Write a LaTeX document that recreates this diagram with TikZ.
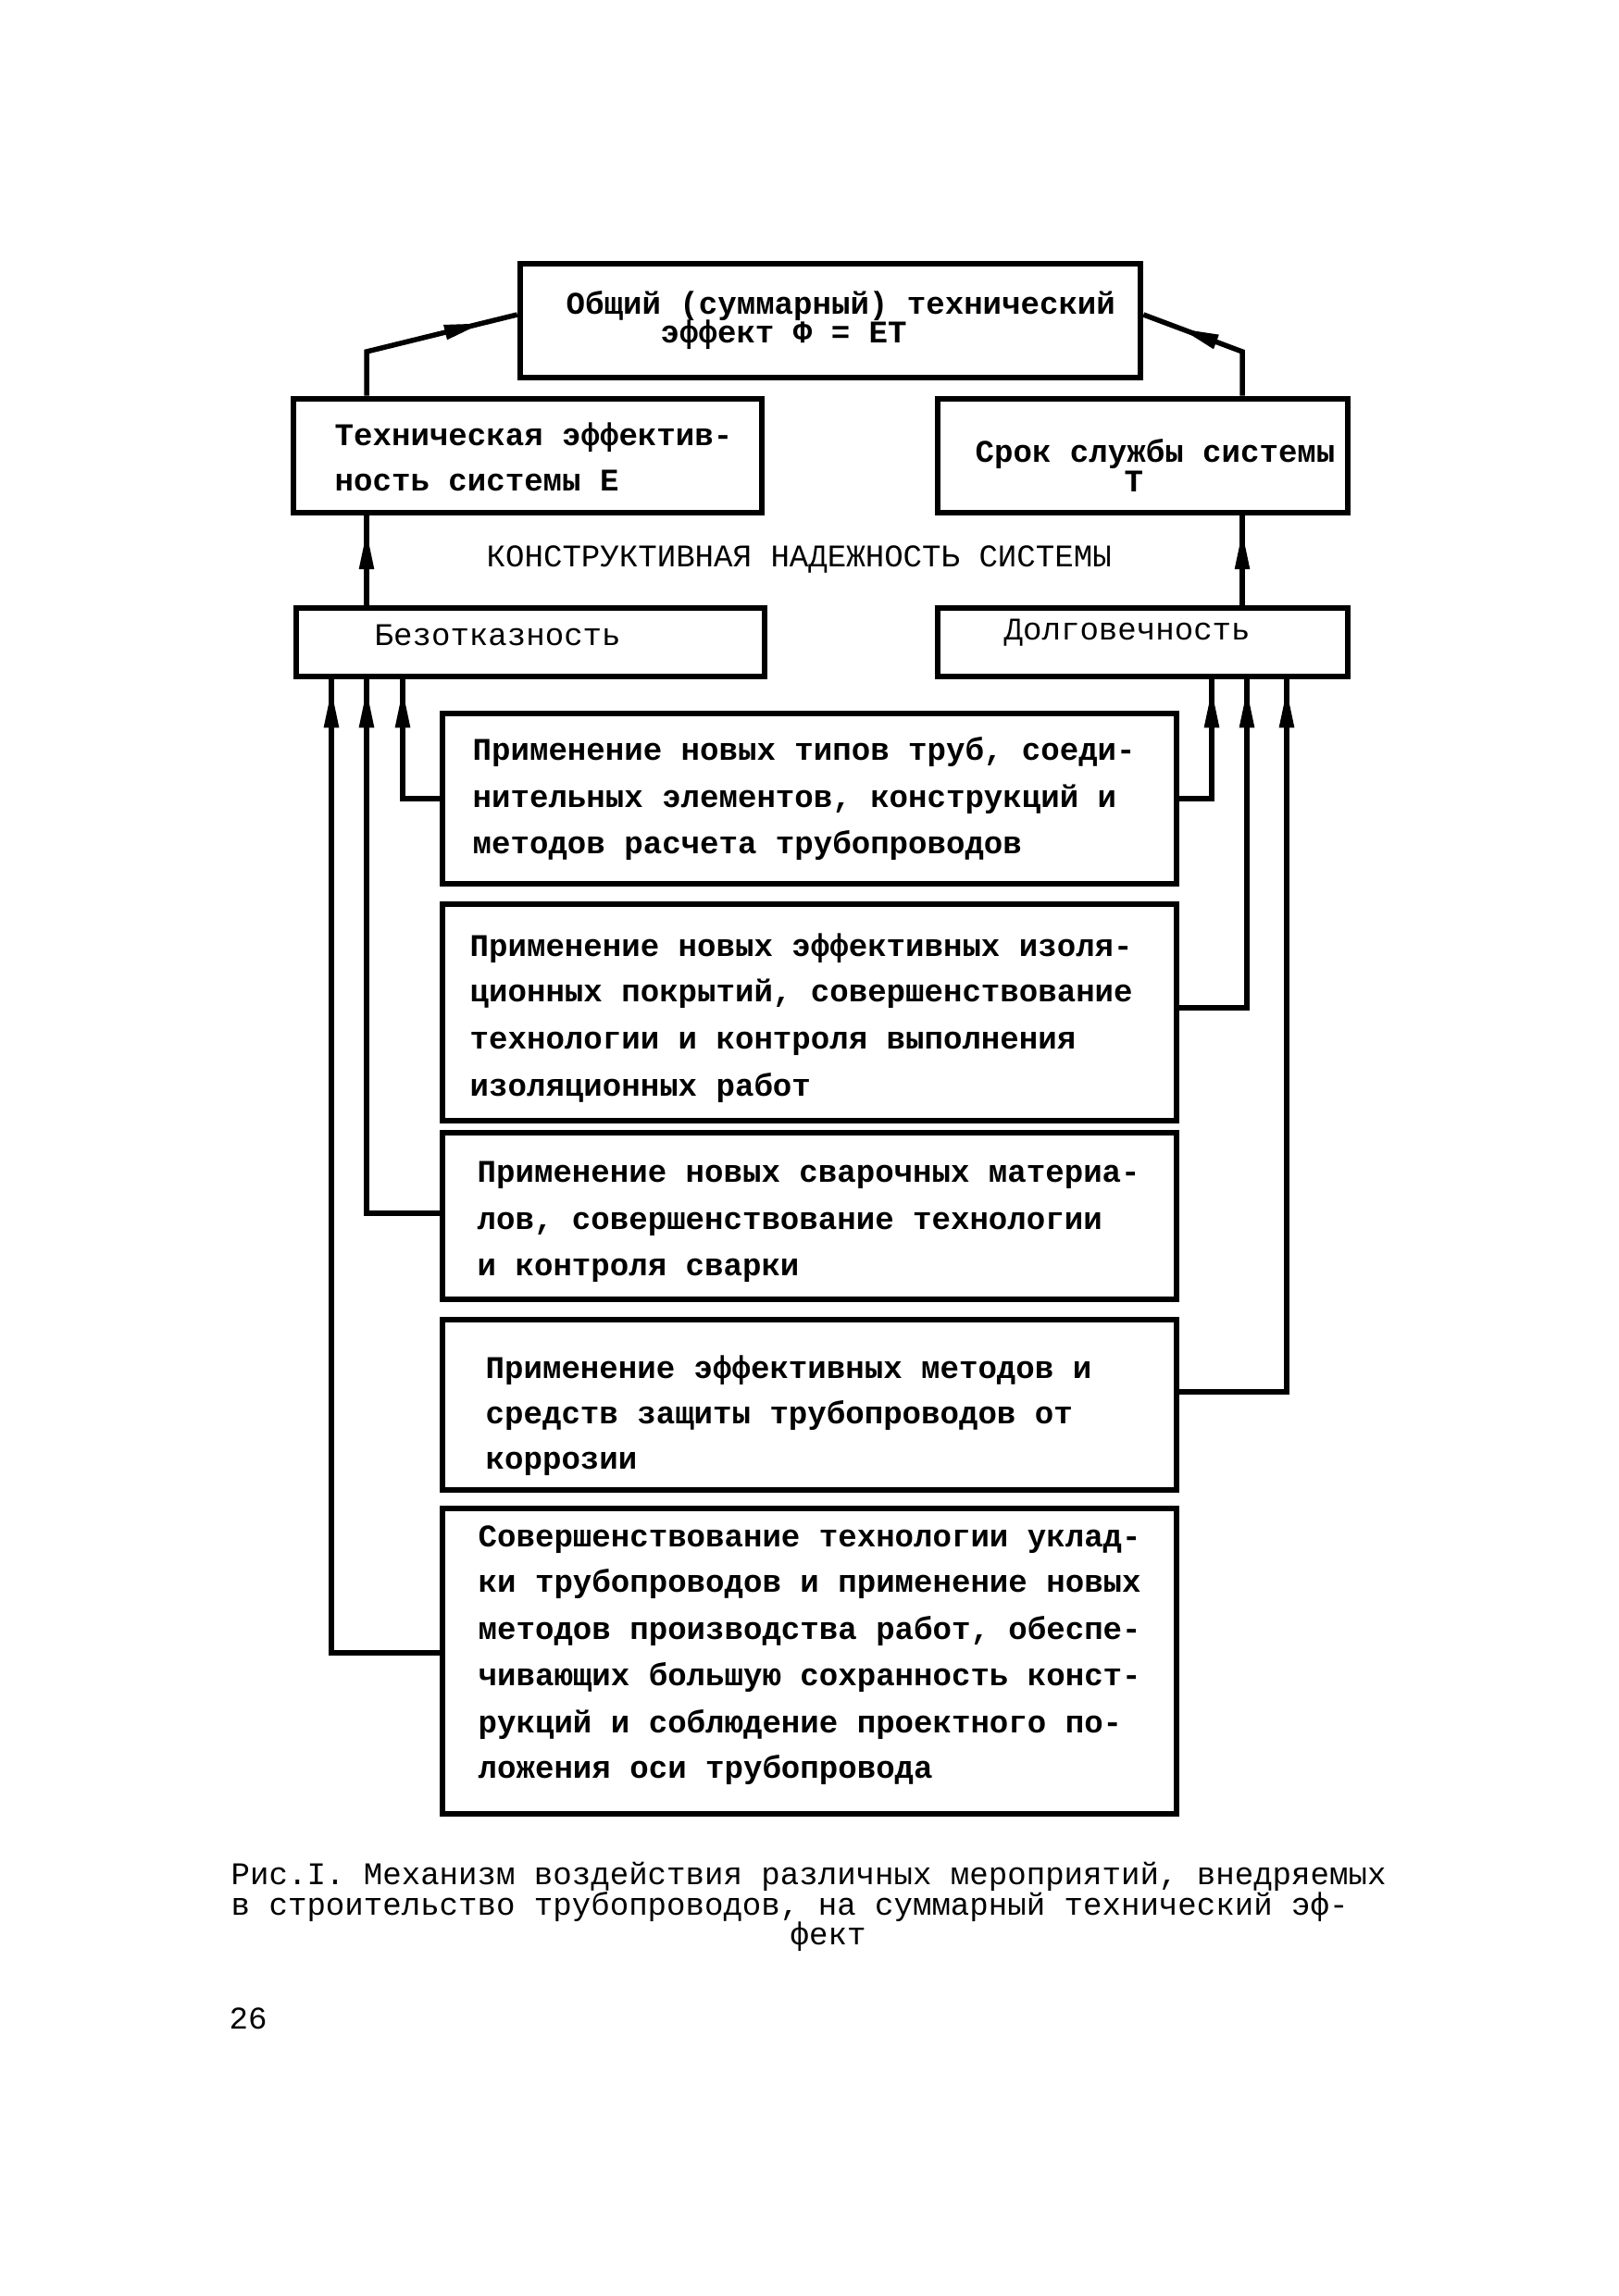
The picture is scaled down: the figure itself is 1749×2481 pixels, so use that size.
\documentclass[tikz,border=0pt]{standalone}
\usepackage{fontspec}
\setmainfont{Liberation Mono}
\usetikzlibrary{arrows.meta,decorations.markings}
\tikzset{
  blk/.style={draw,line width=0.65mm,inner sep=0pt},
  bt/.style={anchor=mid west,inner sep=0pt,font=\fontsize{9.7pt}{11pt}\selectfont\bfseries},
  lt/.style={anchor=mid west,inner sep=0pt,font=\fontsize{9.7pt}{11pt}\selectfont},
  wire/.style={line width=0.55mm},
  arrowat/.style={postaction={decorate},decoration={markings,
    mark=at position #1 with {\arrow{Triangle[length=4.2mm,width=1.5mm]}}}}
}
\begin{document}
\begin{tikzpicture}[x=0.1mm,y=-0.1mm]
\useasboundingbox (0,0) rectangle (1749,2481);
% boxes
\node[blk,minimum width=67mm,minimum height=12.3mm] (F) at (897,346.5) {};
\node[blk,minimum width=50.6mm,minimum height=12.3mm] (E) at (570,492.5) {};
\node[blk,minimum width=44.3mm,minimum height=12.3mm] (T) at (1234.5,492.5) {};
\node[blk,minimum width=50.6mm,minimum height=7.4mm] (B) at (573,694) {};
\node[blk,minimum width=44.3mm,minimum height=7.4mm] (D) at (1234.5,694) {};
\node[blk,minimum width=79.3mm,minimum height=18.4mm] (M1) at (874.5,863) {};
\node[blk,minimum width=79.3mm,minimum height=23.4mm] (M2) at (874.5,1094) {};
\node[blk,minimum width=79.3mm,minimum height=18mm] (M3) at (874.5,1314) {};
\node[blk,minimum width=79.3mm,minimum height=18.4mm] (M4) at (874.5,1518) {};
\node[blk,minimum width=79.3mm,minimum height=33mm] (M5) at (874.5,1795) {};
% texts
\node[bt] (f1) at (611,330) {Общий (суммарный) технический};
\node[bt] (f2) at (713,361) {эффект Ф = ЕТ};
\node[bt] (e1) at (361,472) {Техническая эффектив-};
\node[bt] (e2) at (361,521) {ность системы Е};
\node[bt] (s1) at (1053,490) {Срок службы системы};
\node[bt] (s2) at (1214,522) {Т};
\node[lt] (k1) at (525,603) {КОНСТРУКТИВНАЯ НАДЕЖНОСТЬ СИСТЕМЫ};
\node[lt] (b1t) at (404,688) {Безотказность};
\node[lt] (d1t) at (1084,682) {Долговечность};
\node[bt] (m11) at (510,812) {Применение новых типов труб, соеди-};
\node[bt] (m12) at (510,863) {нительных элементов, конструкций и};
\node[bt] (m13) at (510,913) {методов расчета трубопроводов};
\node[bt] (m21) at (507,1024) {Применение новых эффективных изоля-};
\node[bt] (m22) at (507,1073) {ционных покрытий, совершенствование};
\node[bt] (m23) at (507,1124) {технологии и контроля выполнения};
\node[bt] (m24) at (507,1175) {изоляционных работ};
\node[bt] (m31) at (515,1268) {Применение новых сварочных материа-};
\node[bt] (m32) at (515,1319) {лов, совершенствование технологии};
\node[bt] (m33) at (515,1369) {и контроля сварки};
\node[bt] (m41) at (524,1480) {Применение эффективных методов и};
\node[bt] (m42) at (524,1529) {средств защиты трубопроводов от};
\node[bt] (m43) at (524,1578) {коррозии};
\node[bt] (m51) at (516,1662) {Совершенствование технологии уклад-};
\node[bt] (m52) at (516,1711) {ки трубопроводов и применение новых};
\node[bt] (m53) at (516,1762) {методов производства работ, обеспе-};
\node[bt] (m54) at (516,1812) {чивающих большую сохранность конст-};
\node[bt] (m55) at (516,1863) {рукций и соблюдение проектного по-};
\node[bt] (m56) at (516,1912) {ложения оси трубопровода};
\node[lt] (c1) at (249,2027) {Рис.I. Механизм воздействия различных мероприятий, внедряемых};
\node[lt] (c2) at (249,2060) {в строительство трубопроводов, на суммарный технический эф-};
\node[lt] (c3) at (853,2092) {фект};
\node[lt] (pg) at (247,2183) {26};
% connectors
\coordinate (kL) at (396,380);
\coordinate (kR) at (1342,380);
\draw[wire,arrowat=-3.8mm] (kL |- E.north) -- (kL) -- ([yshift=0.65mm]F.west);
\draw[wire,arrowat=-4.2mm] (kR |- T.north) -- (kR) -- ([yshift=0.65mm]F.east);
\draw[wire,arrowat=-1.6mm] (kL |- B.north) -- (kL |- E.south);
\draw[wire,arrowat=-1.6mm] (kR |- D.north) -- (kR |- T.south);
\coordinate (bx1) at (435,0);
\coordinate (bx2) at (396,0);
\coordinate (bx3) at (358,0);
\coordinate (dx1) at (1309,0);
\coordinate (dx2) at (1347,0);
\coordinate (dx3) at (1390,0);
\draw[wire,arrowat=-1mm] (M1.west) -| (bx1 |- B.south);
\draw[wire,arrowat=-1mm] ([yshift=0.3mm]M3.west) -| (bx2 |- B.south);
\draw[wire,arrowat=-1mm] ([yshift=0.9mm]M5.west) -| (bx3 |- B.south);
\draw[wire,arrowat=-1mm] (M1.east) -| (dx1 |- D.south);
\draw[wire,arrowat=-1mm] ([yshift=0.5mm]M2.east) -| (dx2 |- D.south);
\draw[wire,arrowat=-1mm] ([yshift=1.4mm]M4.east) -| (dx3 |- D.south);
\end{tikzpicture}
\end{document}
